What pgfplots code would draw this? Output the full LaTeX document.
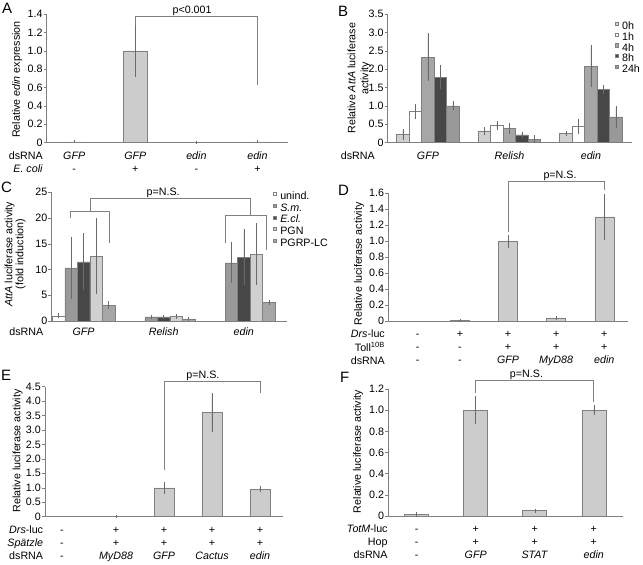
\documentclass[border=0pt]{standalone}
\usepackage{fontspec}
\setmainfont{Liberation Sans}
\usepackage{pgfplots}
\pgfplotsset{compat=1.18}

\definecolor{axgray}{HTML}{808080}
\definecolor{errgray}{HTML}{6A6A6A}
\definecolor{barfill}{HTML}{CCCCCC}
\definecolor{gLight}{HTML}{D0D0D0}
\definecolor{gMid}{HTML}{A6A6A6}
\definecolor{gDark}{HTML}{474747}
\definecolor{gMed}{HTML}{999999}

\newcommand\rf{\fontsize{10.7}{12.9}\selectfont}
\newcommand\duo[2]{\strut#1\\\strut#2}
\newcommand\tri[3]{\strut#1\\\strut#2\\\strut#3}

\tikzset{
  bracket/.style={axgray, line width=0.6pt},
  rowlab/.style={anchor=north east, align=right, inner sep=0pt, font=\rf},
}

\pgfplotsset{
  panel/.style={
    scale only axis, clip=false,
    axis lines=left,
    axis line style={-, draw=axgray, line width=0.6pt},
    ymin=0,
    tick align=outside, major tick length=3pt,
    ytick style={draw=axgray, line width=0.5pt},
    xtick style={draw=none},
    tick label style={font=\rf, /pgf/number format/assume math mode=true},
    yticklabel style={inner sep=1pt},
    xticklabel style={anchor=north, align=center, inner sep=0pt, yshift=-4.6pt},
    label style={font=\rf},
  },
  bars/.style={
    fill=#1, draw=axgray, line width=0.5pt,
    error bars/.cd, y dir=both, y explicit,
    error bar style={errgray, line width=0.4pt},
    error mark options={errgray, mark size=1.6pt, line width=0.4pt},
  },
  bars/.default=barfill,
  sqlegend/.style={
    legend image code/.code={\draw[#1, draw=axgray, line width=0.3pt] (0pt,1.7pt) rectangle (3.2pt,4.9pt);}},
  keylegend/.style={
    every axis plot post/.append style={sqlegend},
    legend cell align=left,
    legend style={draw=none, fill=none, anchor=north west, font=\rf,
      inner sep=0pt, column sep=4pt,
      nodes={inner sep=0pt, text height=8pt, text depth=#1}},
  },
}

\begin{document}
\begin{tikzpicture}
\useasboundingbox (0,0) rectangle (643pt,565pt);

% panel letters
\begin{scope}[every node/.style={anchor=north west, inner sep=0pt, font=\fontsize{15}{15}\selectfont}]
\node at (2pt,562pt) {A};
\node at (338pt,559pt) {B};
\node at (1pt,383pt) {C};
\node at (338pt,380pt) {D};
\node at (1pt,195pt) {E};
\node at (340pt,193pt) {F};
\end{scope}

% ---------------- A
\begin{axis}[panel, at={(46.7pt,422.3pt)}, width=241.3pt, height=128.7pt,
  xmin=-0.45, xmax=3.5, ymax=1.4, ybar, bar width=24pt,
  ytick={0,0.2,0.4,0.6,0.8,1.0,1.2,1.4},
  yticklabels={0,0.2,0.4,0.6,0.8,1.0,1.2,1.4},
  xtick={0,1,2,3},
  xticklabels={{\duo{\textit{GFP}}{-}},{\duo{\textit{GFP}}{+}},{\duo{\textit{edin}}{-}},{\duo{\textit{edin}}{+}}},
  ylabel={Relative \textit{edin} expression},
  ylabel style={at={([xshift=-29.5pt]rel axis cs:0,0.49)}, anchor=center}]
\addplot[bars] coordinates {(0,0.01) +- (0,0) (1,1.0) +- (0,0.27) (2,0.005) +- (0,0) (3,0.01) +- (0,0)};
\draw[bracket] (axis cs:1,1.28) |- (axis cs:3,1.371) -- (axis cs:3,0.628);
\node[anchor=south, inner sep=0.5pt, font=\rf] at (axis cs:1.93,1.371) {p<0.001};
\node[rowlab] at ([xshift=-3.7pt, yshift=-7.6pt]rel axis cs:0,0) {\duo{dsRNA}{\textit{E. coli}}};
\end{axis}

% ---------------- B
\begin{axis}[panel, at={(387.7pt,422.3pt)}, width=244pt, height=128.7pt,
  xmin=-0.494, xmax=2.5, ymax=3.5, ybar=0pt, bar width=12.5pt, keylegend=2.8pt,
  ytick={0,0.5,1.0,1.5,2.0,2.5,3.0,3.5},
  yticklabels={0,0.5,1.0,1.5,2.0,2.5,3.0,3.5},
  xtick={0,1,2},
  xticklabels={\strut\textit{GFP},\strut\textit{Relish},\strut\textit{edin}},
  ylabel={Relative \textit{AttA} luciferase\\activity},
  ylabel style={align=center, font=\fontsize{10.7}{13}\selectfont, at={([xshift=-28.7pt]rel axis cs:0,0.5)}, anchor=center},
  legend style={at={(rel axis cs:0.929,0.943)}},
  legend entries={0h,1h,4h,8h,24h}]
\addplot[bars=gLight] coordinates {(0,0.22) +- (0,0.1) (1,0.32) +- (0,0.06) (2,0.25) +- (0,0.02)};
\addplot[bars=white] coordinates {(0,0.85) +- (0,0.15) (1,0.47) +- (0,0.07) (2,0.44) +- (0,0.17)};
\addplot[bars=gMid] coordinates {(0,2.33) +- (0,0.6) (1,0.38) +- (0,0.1) (2,2.08) +- (0,0.53)};
\addplot[bars=gDark] coordinates {(0,1.78) +- (0,0.28) (1,0.21) +- (0,0.04) (2,1.45) +- (0,0.08)};
\addplot[bars=gMed] coordinates {(0,1.0) +- (0,0.08) (1,0.1) +- (0,0.06) (2,0.7) +- (0,0.25)};
\node[rowlab] at ([xshift=-12.7pt, yshift=-7.6pt]rel axis cs:0,0) {\strut dsRNA};
\end{axis}

% ---------------- C
\begin{axis}[panel, at={(51.5pt,244pt)}, width=235.2pt, height=128.7pt,
  xmin=-0.4, xmax=2.536, ymax=25, ybar=0pt, bar width=12.5pt, keylegend=3.7pt,
  ytick={0,5,10,15,20,25},
  yticklabels={0,5,10,15,20,25},
  xtick={0,1,2},
  xticklabels={\strut\textit{GFP},\strut\textit{Relish},\strut\textit{edin}},
  xticklabel style={yshift=2.3pt},
  ylabel={\textit{AttA} luciferase activity\\(fold induction)},
  ylabel style={align=center, font=\fontsize{10.7}{11}\selectfont, at={([xshift=-36.5pt]rel axis cs:0,0.52)}, anchor=center},
  legend style={at={(rel axis cs:0.94,1.009)}},
  legend entries={unind.,\textit{S.m.},\textit{E.cl.},PGN,PGRP-LC}]
\addplot[bars=white] coordinates {(0,1.0) +- (0,0.15)};
\addplot[bars=gMed] coordinates {(0,10.3) +- (0,5.8) (1,0.8) +- (0,0.1) (2,11.3) +- (0,3.7)};
\addplot[bars=gDark] coordinates {(0,11.5) +- (0,5.2) (1,0.8) +- (0,0.15) (2,12.4) +- (0,5.1)};
\addplot[bars=gLight] coordinates {(0,12.6) +- (0,7.0) (1,0.9) +- (0,0.15) (2,13.0) +- (0,5.7)};
\addplot[bars=gMid] coordinates {(0,3.1) +- (0,0.4) (1,0.4) +- (0,0.05) (2,3.6) +- (0,0.2)};
\draw[bracket] (axis cs:-0.16,20.1) |- (axis cs:0.3275,21.23) -- (axis cs:0.3275,15.1);
\draw[bracket] (axis cs:1.765,15.1) |- (axis cs:2.278,20.6) -- (axis cs:2.278,13.8);
\draw[bracket] (axis cs:0.086,21.23) |- (axis cs:2.078,23.8) -- (axis cs:2.078,20.6);
\node[anchor=south, inner sep=0.5pt, font=\rf] at (axis cs:0.994,23.8) {p=N.S.};
\node[rowlab] at ([xshift=-8pt, yshift=-5.3pt]rel axis cs:0,0) {\strut dsRNA};
\end{axis}

% ---------------- D
\begin{axis}[panel, at={(388.3pt,244pt)}, width=240pt, height=127.7pt,
  xmin=-0.49, xmax=4.5, ymax=1.6, ybar, bar width=19pt,
  ytick={0,0.2,0.4,0.6,0.8,1.0,1.2,1.4,1.6},
  yticklabels={0,0.2,0.4,0.6,0.8,1.0,1.2,1.4,1.6},
  xtick={0.12,1,2,3,4},
  xticklabels={{\tri{-}{-}{-}},{\tri{+}{-}{-}},{\tri{+}{+}{\textit{GFP}}},{\tri{+}{+}{\textit{MyD88}}},{\tri{+}{+}{\textit{edin}}}},
  ylabel={Relative luciferase activity},
  ylabel style={at={([xshift=-29.1pt]rel axis cs:0,0.446)}, anchor=center}]
\addplot[bars] coordinates {(1,0.005) +- (0,0.002) (2,1.0) +- (0,0.06) (3,0.04) +- (0,0.005) (4,1.305) +- (0,0.265)};
\draw[bracket] (axis cs:2,1.12) |- (axis cs:4,1.746) -- (axis cs:4,1.64);
\node[anchor=south, inner sep=0.5pt, font=\rf] at (axis cs:3.08,1.746) {p=N.S.};
\node[rowlab] at ([xshift=-3.3pt, yshift=-7.6pt]rel axis cs:0,0) {\tri{\textit{Drs}-luc}{Toll\textsuperscript{10B}}{dsRNA}};
\end{axis}

% ---------------- E
\begin{axis}[panel, at={(45pt,48.3pt)}, width=238pt, height=130pt,
  xmin=-0.48, xmax=4.48, ymax=4.5, ybar, bar width=20pt,
  ytick={0,0.5,1.0,1.5,2.0,2.5,3.0,3.5,4.0,4.5},
  yticklabels={0,0.5,1.0,1.5,2.0,2.5,3.0,3.5,4.0,4.5},
  xtick={-0.13,1,2,3,4},
  xticklabels={{\tri{-}{-}{-}},{\tri{+}{+}{\textit{MyD88}}},{\tri{+}{+}{\textit{GFP}}},{\tri{+}{+}{\textit{Cactus}}},{\tri{+}{+}{\textit{edin}}}},
  ylabel={Relative luciferase activity},
  ylabel style={at={([xshift=-27.5pt]rel axis cs:0,0.505)}, anchor=center}]
\addplot[bars] coordinates {(1,0.01) +- (0,0) (2,1.0) +- (0,0.15) (3,3.6) +- (0,0.62) (4,0.95) +- (0,0.05)};
\draw[bracket] (axis cs:2,1.62) |- (axis cs:4,4.70) -- (axis cs:4,4.27);
\node[anchor=south, inner sep=0.5pt, font=\rf] at (axis cs:2.81,4.70) {p=N.S.};
\node[rowlab] at ([xshift=-1.7pt, yshift=-7.6pt]rel axis cs:0,0) {\tri{\textit{Drs}-luc}{\textit{Spätzle}}{dsRNA}};
\end{axis}

% ---------------- F
\begin{axis}[panel, at={(388.3pt,49pt)}, width=235pt, height=127pt,
  xmin=-0.48, xmax=3.5, ymax=1.2, ybar, bar width=24pt,
  ytick={0,0.2,0.4,0.6,0.8,1.0,1.2},
  yticklabels={0,0.2,0.4,0.6,0.8,1.0,1.2},
  xtick={0,1,2,3},
  xticklabels={{\tri{-}{-}{-}},{\tri{+}{+}{\textit{GFP}}},{\tri{+}{+}{\textit{STAT}}},{\tri{+}{+}{\textit{edin}}}},
  ylabel={Relative luciferase activity},
  ylabel style={at={([xshift=-30.3pt]rel axis cs:0,0.508)}, anchor=center}]
\addplot[bars] coordinates {(0,0.015) +- (0,0.01) (1,1.0) +- (0,0.12) (2,0.05) +- (0,0.005) (3,1.0) +- (0,0.03)};
\draw[bracket] (axis cs:1,1.16) |- (axis cs:3,1.285) -- (axis cs:3,1.08);
\node[anchor=south, inner sep=0.5pt, font=\rf] at (axis cs:1.86,1.285) {p=N.S.};
\node[rowlab] at ([xshift=-0.5pt, yshift=-7.6pt]rel axis cs:0,0) {\tri{\textit{TotM}-luc}{Hop}{dsRNA}};
\end{axis}
\end{tikzpicture}
\end{document}
